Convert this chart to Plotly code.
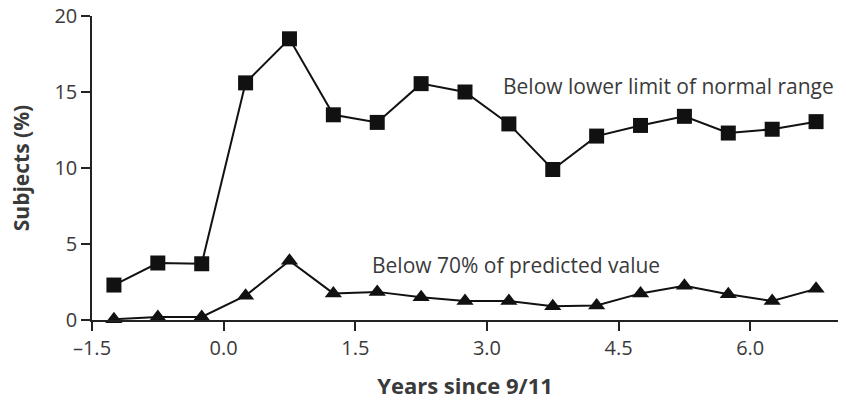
import plotly.graph_objects as go

# Half-year intervals relative to 9/11
years = [-1.25, -0.75, -0.25, 0.25, 0.75, 1.25, 1.75, 2.25, 2.75, 3.25,
         3.75, 4.25, 4.75, 5.25, 5.75, 6.25, 6.75]

# Percentage of subjects below the lower limit of normal range
below_lln = [2.3, 3.75, 3.7, 15.6, 18.5, 13.5, 13.0, 15.55, 15.0, 12.9,
             9.9, 12.1, 12.8, 13.4, 12.3, 12.55, 13.05]

# Percentage of subjects below 70% of predicted value
below_70 = [0.05, 0.2, 0.2, 1.6, 3.9, 1.75, 1.85, 1.5, 1.25, 1.25,
            0.9, 0.95, 1.75, 2.25, 1.7, 1.25, 2.05]

x_tick_vals = [-1.5, 0.0, 1.5, 3.0, 4.5, 6.0]
x_tick_text = ["\u20131.5", "0.0", "1.5", "3.0", "4.5", "6.0"]
y_tick_vals = [0, 5, 10, 15, 20]

FONT = "Open Sans"
TEXT_COLOR = "#3a3a3a"
LINE_COLOR = "#111111"
AXIS_COLOR = "#222222"

fig = go.Figure()
fig.add_trace(go.Scatter(
    x=years, y=below_lln, mode="lines+markers",
    line=dict(color=LINE_COLOR, width=2),
    marker=dict(symbol="square", size=15, color=LINE_COLOR),
    cliponaxis=False, showlegend=False,
))
fig.add_trace(go.Scatter(
    x=years, y=below_70, mode="lines+markers",
    line=dict(color=LINE_COLOR, width=2),
    marker=dict(symbol="triangle-up", size=15, color=LINE_COLOR),
    cliponaxis=False, showlegend=False,
))

fig.add_annotation(x=3.16, y=15.4, xref="x", yref="y", xanchor="left",
                   yanchor="middle", showarrow=False,
                   text="Below lower limit of normal range",
                   font=dict(family=FONT, size=21, color=TEXT_COLOR))
fig.add_annotation(x=1.67, y=3.63, xref="x", yref="y", xanchor="left",
                   yanchor="middle", showarrow=False,
                   text="Below 70% of predicted value",
                   font=dict(family=FONT, size=21, color=TEXT_COLOR))

axis_common = dict(
    showgrid=False, zeroline=False, showline=True, automargin=False,
    linecolor=AXIS_COLOR, linewidth=1.5,
    ticks="outside", ticklen=9, tickwidth=1.5, tickcolor=AXIS_COLOR,
    tickfont=dict(family=FONT, size=20, color=TEXT_COLOR),
)

fig.update_layout(
    width=846, height=405,
    margin=dict(l=92, r=8, t=16, b=85),
    paper_bgcolor="white", plot_bgcolor="white",
    font=dict(family=FONT, size=20, color=TEXT_COLOR),
    xaxis=dict(
        range=[-1.5, 7.0], tickvals=x_tick_vals, ticktext=x_tick_text,
        title=dict(text="<b>Years since 9/11</b>", standoff=19,
                   font=dict(family=FONT, size=22, color=TEXT_COLOR)),
        **axis_common,
    ),
    yaxis=dict(
        range=[0, 20], tickvals=y_tick_vals,
        title=dict(text="<b>Subjects (%)</b>", standoff=19,
                   font=dict(family=FONT, size=21, color=TEXT_COLOR)),
        **axis_common,
    ),
)

fig.write_html("out.html")
